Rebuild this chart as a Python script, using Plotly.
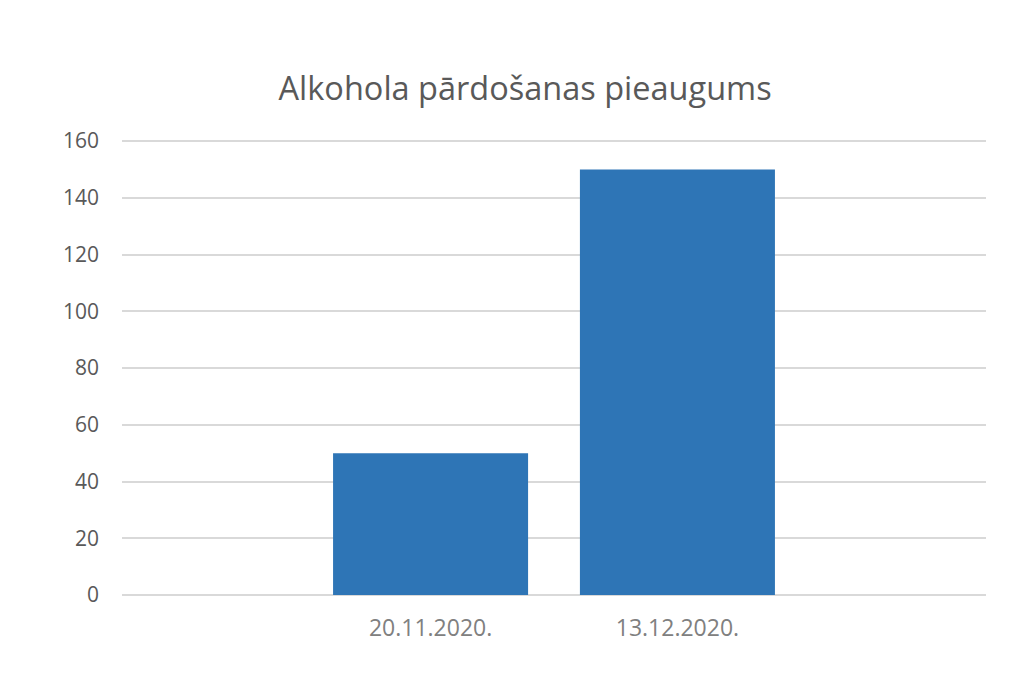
import plotly.graph_objects as go

dates = ["20.11.2020.", "13.12.2020."]
growth = [50, 150]
title_text = "Alkohola pārdošanas pieaugums"

fig = go.Figure()
fig.add_trace(go.Bar(x=dates, y=growth, marker_color="#2E75B6", width=0.79,
                     marker_line_width=0))

# page body adds 8px offset, so margins are shifted to compensate
fig.update_layout(
    width=1024, height=675,
    margin=dict(l=114, r=46, t=132, b=88),
    paper_bgcolor="white", plot_bgcolor="white",
    font=dict(family="Open Sans", color="#595959"),
    title=dict(text=title_text, x=0.505, xanchor="center", y=0.881, yanchor="middle",
               font=dict(size=32.5, color="#595959")),
    showlegend=False,
)
fig.update_xaxes(type="category", range=[-1.25, 2.25], showgrid=False,
                 showline=False, ticks="", tickfont=dict(size=23, color="#808080"),
                 ticklabelstandoff=17)
fig.update_yaxes(range=[0, 160.4], tickvals=[0, 20, 40, 60, 80, 100, 120, 140, 160],
                 showgrid=True, gridcolor="#D9D9D9",
                 gridwidth=1.5, zeroline=True, zerolinecolor="#D9D9D9", zerolinewidth=1.5,
                 showline=False, ticks="", tickfont=dict(size=21, color="#595959"),
                 ticklabelstandoff=22)

fig.write_html("out.html")
